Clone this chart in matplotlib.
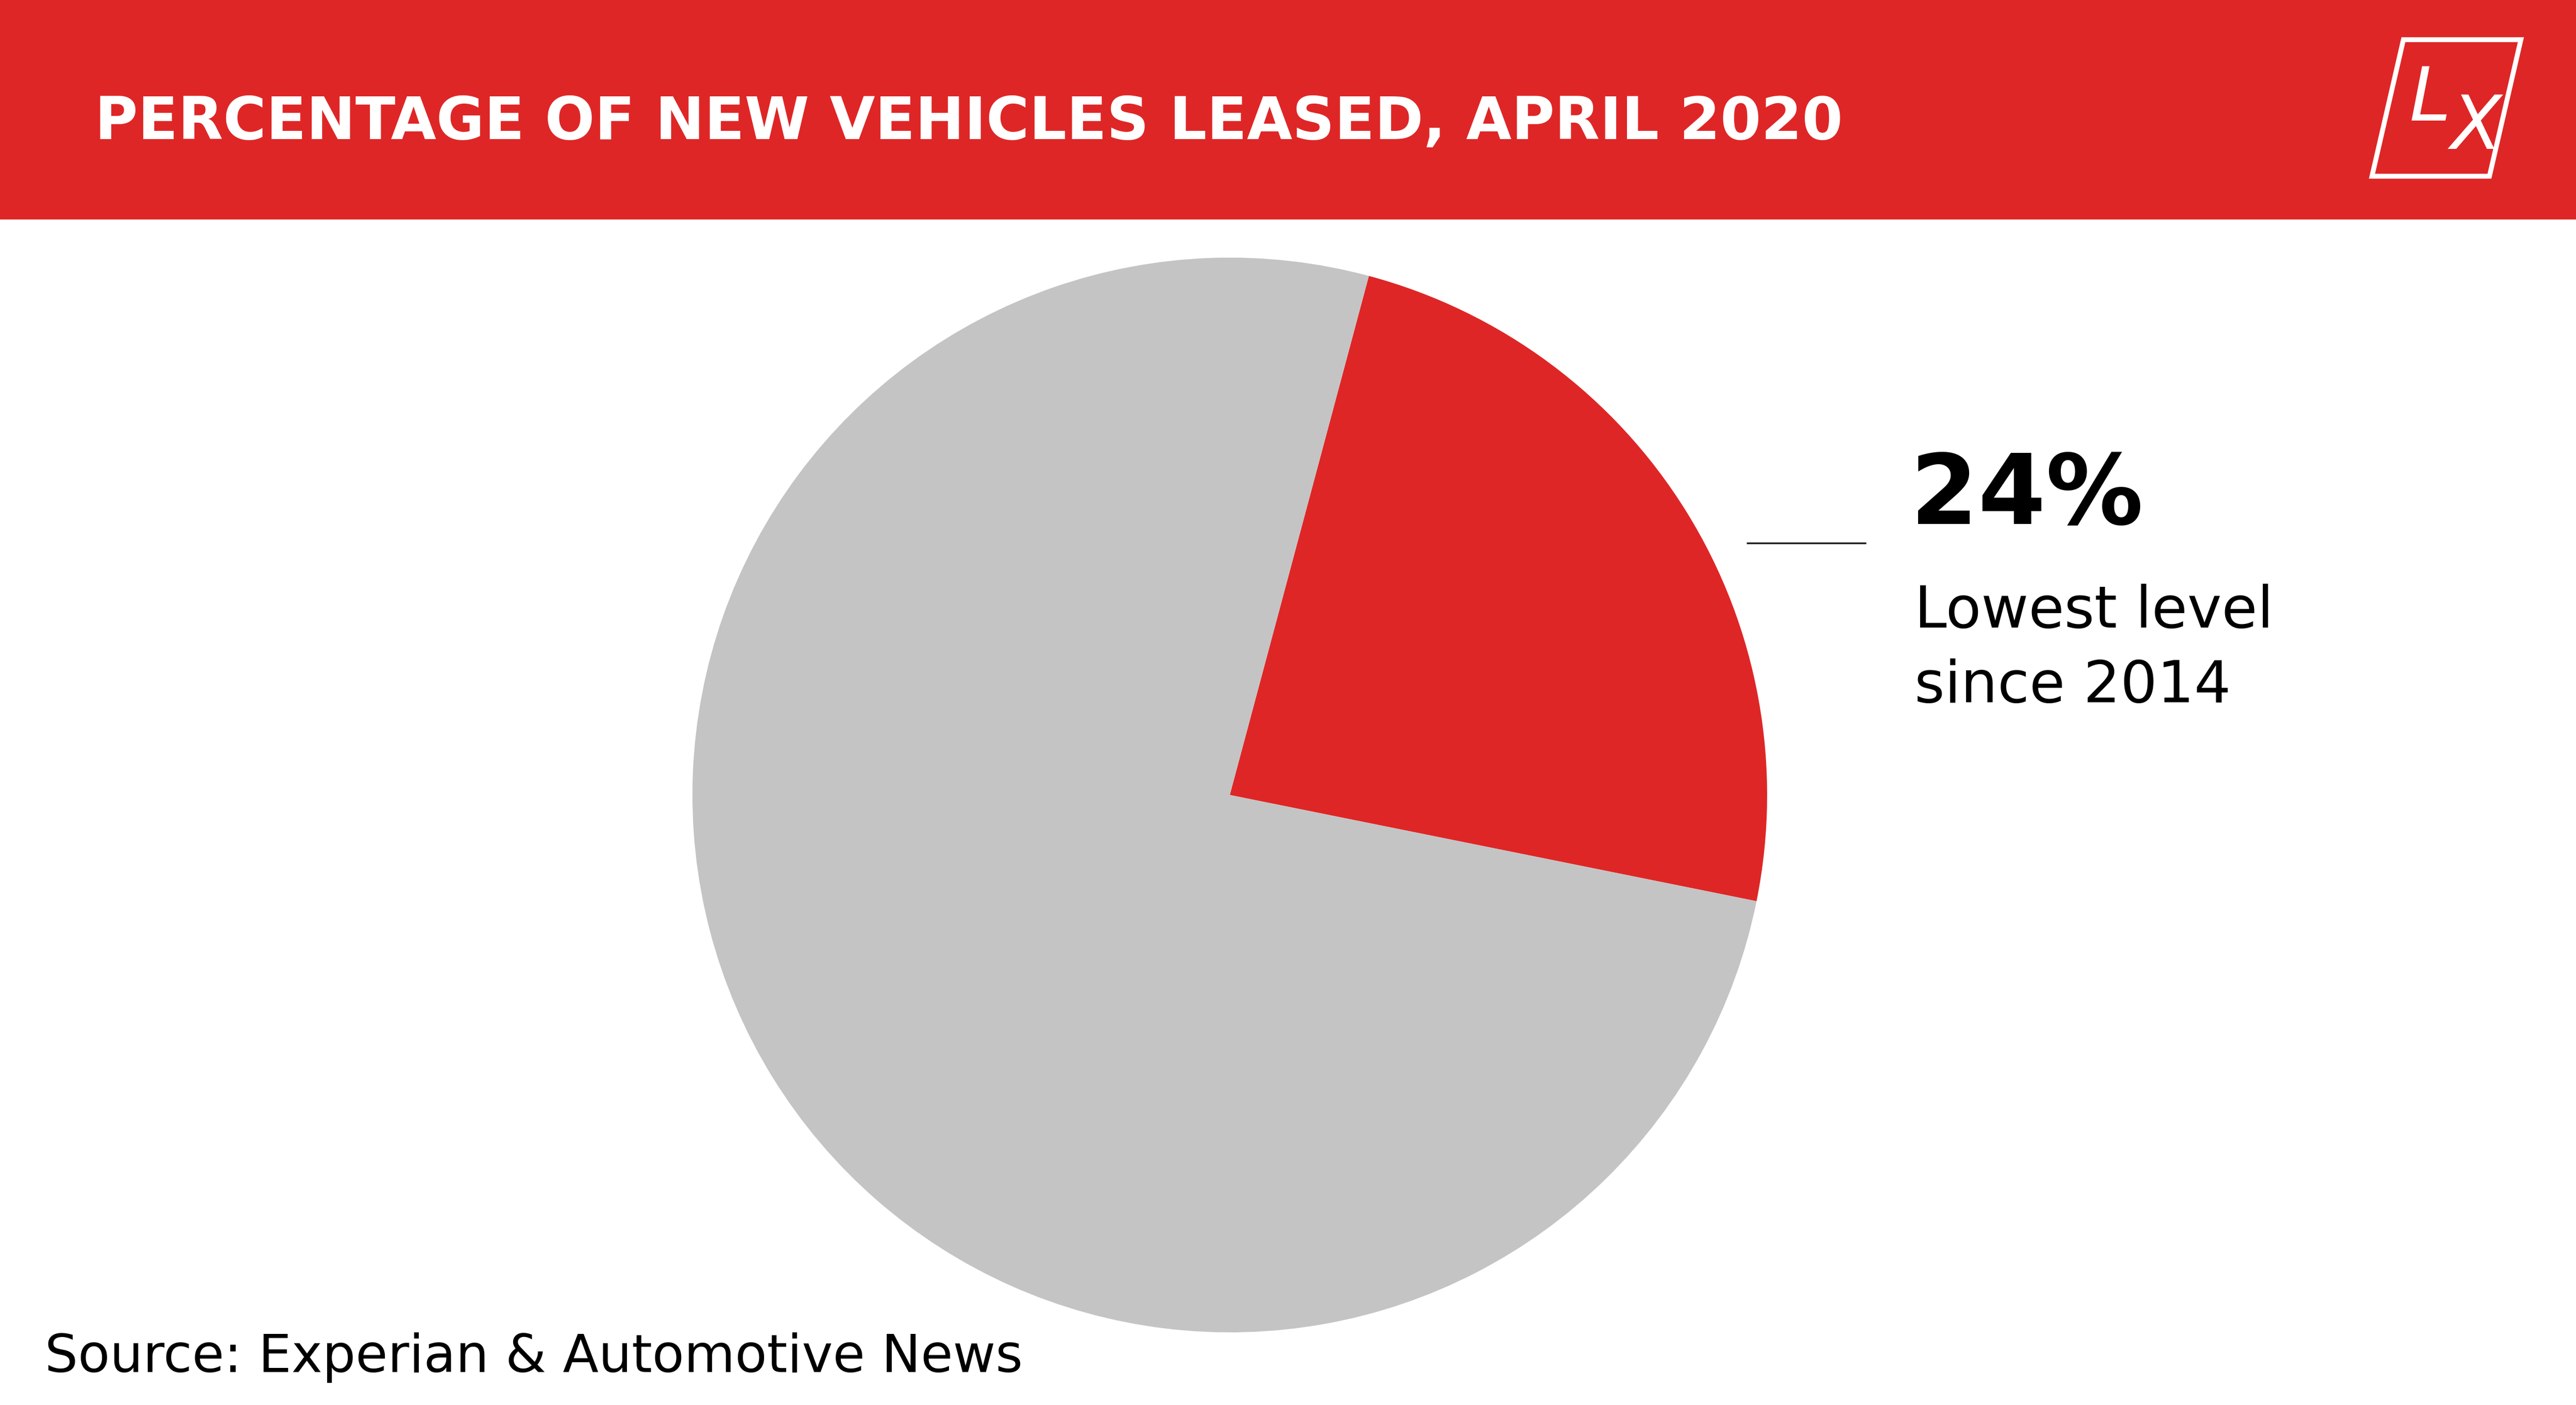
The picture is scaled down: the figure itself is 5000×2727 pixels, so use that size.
import matplotlib
matplotlib.use("Agg")
from matplotlib import pyplot as plt
from matplotlib.patches import Rectangle, Polygon

# data
labels = ["Leased", "Not leased"]
shares = [24, 76]
slice_colors = ["#DF2626", "#C4C4C4"]

title_text = "PERCENTAGE OF NEW VEHICLES LEASED, APRIL 2020"
big_label = "24%"
note_lines = ["Lowest level", "since 2014"]
source_text = "Source: Experian & Automotive News"

W, H = 5000, 2727
RED = "#DF2626"

fig = plt.figure(figsize=(W / 100, H / 100), dpi=100)
ax = fig.add_axes([0, 0, 1, 1])

# pie (pixel coords, y up)
ax.pie(shares, colors=slice_colors, startangle=75, counterclock=False,
       center=(2387, H - 1543), radius=1043,
       wedgeprops=dict(linewidth=0))

ax.set_xlim(0, W)
ax.set_ylim(0, H)
ax.set_aspect("equal")
ax.axis("off")

# red banner on top
ax.add_patch(Rectangle((0, H - 426), W, 426, facecolor=RED, edgecolor="none", zorder=5))
ax.text(184, H - 270, title_text, color="white", fontsize=82, fontweight="bold",
        family="DejaVu Sans", va="baseline", ha="left", zorder=6)

# LX logo
logo = Polygon([(4665, H - 77), (4893, H - 77), (4832, H - 342), (4604, H - 342)],
               closed=True, facecolor="none", edgecolor="white", linewidth=6.8, zorder=6)
ax.add_patch(logo)
ax.text(4676, H - 234, "L", color="white", fontsize=104, style="italic",
        family="DejaVu Sans", va="baseline", ha="left", zorder=6)
ax.text(4756, H - 289, "X", color="white", fontsize=104, style="italic",
        family="DejaVu Sans", va="baseline", ha="left", zorder=6)

# annotation
ax.plot([3390, 3622], [H - 1054, H - 1054], color="#222222", linewidth=2.5,
        solid_capstyle="butt")
ax.text(3708, H - 1017, big_label, color="black", fontsize=136, fontweight="bold",
        family="DejaVu Sans", va="baseline", ha="left")
ax.text(3716, H - 1218, note_lines[0], color="black", fontsize=81,
        family="DejaVu Sans", va="baseline", ha="left")
ax.text(3716, H - 1363, note_lines[1], color="black", fontsize=81,
        family="DejaVu Sans", va="baseline", ha="left")

# source
ax.text(87, H - 2663, source_text, color="black", fontsize=73,
        family="DejaVu Sans", va="baseline", ha="left")

fig.savefig("out.png", dpi=100, facecolor="white")
